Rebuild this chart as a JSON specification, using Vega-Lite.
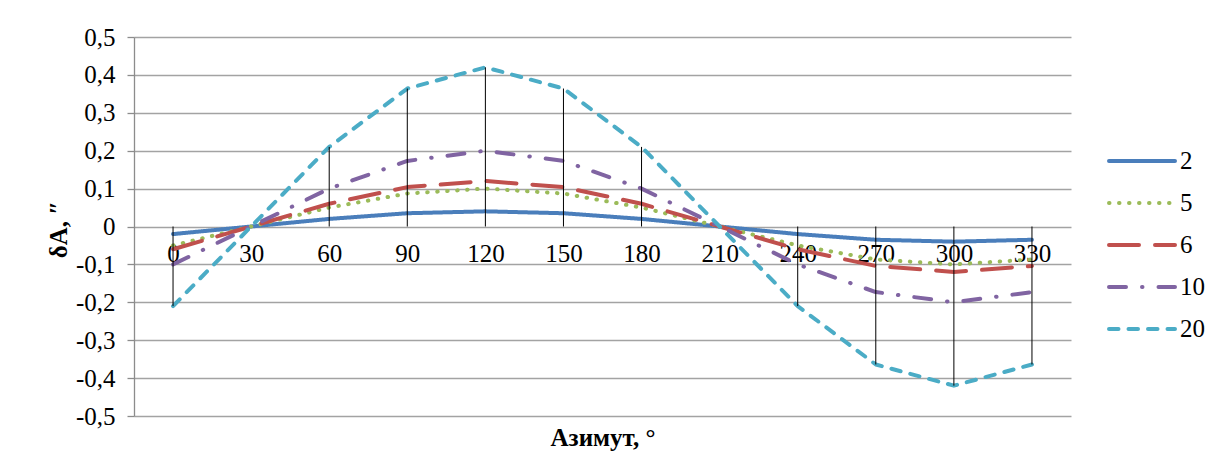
{
  "$schema": "https://vega.github.io/schema/vega-lite/v6.json",
  "width": 937,
  "height": 379,
  "autosize": {"type": "none"},
  "padding": {"left": 134, "top": 37, "right": 143, "bottom": 56},
  "background": "white",
  "config": {"view": {"stroke": null}, "font": "'Liberation Serif', 'Times New Roman', 'DejaVu Serif', serif"},
  "data": {"values": [
    {"az": 0, "s": "2", "v": -0.02}, {"az": 30, "s": "2", "v": 0.0}, {"az": 60, "s": "2", "v": 0.02}, {"az": 90, "s": "2", "v": 0.035}, {"az": 120, "s": "2", "v": 0.04}, {"az": 150, "s": "2", "v": 0.035}, {"az": 180, "s": "2", "v": 0.02}, {"az": 210, "s": "2", "v": 0.0}, {"az": 240, "s": "2", "v": -0.02}, {"az": 270, "s": "2", "v": -0.035}, {"az": 300, "s": "2", "v": -0.04}, {"az": 330, "s": "2", "v": -0.035},
    {"az": 0, "s": "5", "v": -0.05}, {"az": 30, "s": "5", "v": 0.0}, {"az": 60, "s": "5", "v": 0.05}, {"az": 90, "s": "5", "v": 0.087}, {"az": 120, "s": "5", "v": 0.1}, {"az": 150, "s": "5", "v": 0.087}, {"az": 180, "s": "5", "v": 0.05}, {"az": 210, "s": "5", "v": 0.0}, {"az": 240, "s": "5", "v": -0.05}, {"az": 270, "s": "5", "v": -0.087}, {"az": 300, "s": "5", "v": -0.1}, {"az": 330, "s": "5", "v": -0.087},
    {"az": 0, "s": "6", "v": -0.06}, {"az": 30, "s": "6", "v": 0.0}, {"az": 60, "s": "6", "v": 0.06}, {"az": 90, "s": "6", "v": 0.104}, {"az": 120, "s": "6", "v": 0.12}, {"az": 150, "s": "6", "v": 0.104}, {"az": 180, "s": "6", "v": 0.06}, {"az": 210, "s": "6", "v": 0.0}, {"az": 240, "s": "6", "v": -0.06}, {"az": 270, "s": "6", "v": -0.104}, {"az": 300, "s": "6", "v": -0.12}, {"az": 330, "s": "6", "v": -0.104},
    {"az": 0, "s": "10", "v": -0.1}, {"az": 30, "s": "10", "v": 0.0}, {"az": 60, "s": "10", "v": 0.1}, {"az": 90, "s": "10", "v": 0.173}, {"az": 120, "s": "10", "v": 0.2}, {"az": 150, "s": "10", "v": 0.173}, {"az": 180, "s": "10", "v": 0.1}, {"az": 210, "s": "10", "v": 0.0}, {"az": 240, "s": "10", "v": -0.1}, {"az": 270, "s": "10", "v": -0.173}, {"az": 300, "s": "10", "v": -0.2}, {"az": 330, "s": "10", "v": -0.173},
    {"az": 0, "s": "20", "v": -0.21}, {"az": 30, "s": "20", "v": 0.0}, {"az": 60, "s": "20", "v": 0.21}, {"az": 90, "s": "20", "v": 0.364}, {"az": 120, "s": "20", "v": 0.42}, {"az": 150, "s": "20", "v": 0.364}, {"az": 180, "s": "20", "v": 0.21}, {"az": 210, "s": "20", "v": 0.0}, {"az": 240, "s": "20", "v": -0.21}, {"az": 270, "s": "20", "v": -0.364}, {"az": 300, "s": "20", "v": -0.42}, {"az": 330, "s": "20", "v": -0.364}
  ]},
  "layer": [
    {
      "mark": {"type": "line", "strokeWidth": 4, "strokeCap": "round", "strokeJoin": "round"},
      "encoding": {
        "x": {
          "field": "az", "type": "quantitative",
          "scale": {"domain": [-15, 345], "nice": false, "zero": false},
          "axis": {
            "values": [0, 30, 60, 90, 120, 150, 180, 210, 240, 270, 300, 330],
            "tickCount": 20,
            "offset": -189.5,
            "domain": false, "ticks": false, "grid": false,
            "labelFont": "'Liberation Serif', 'Times New Roman', 'DejaVu Serif', serif", "labelFontSize": 25, "labelColor": "black",
            "labelPadding": 15, "labelFlush": false, "labelOverlap": false,
            "title": "Азимут,  °",
            "titleFont": "'Liberation Serif', 'Times New Roman', 'DejaVu Serif', serif", "titleFontSize": 25, "titleFontWeight": "bold", "titleColor": "black",
            "titleY": 219, "titleBaseline": "alphabetic", "titleAnchor": "middle"
          }
        },
        "y": {
          "field": "v", "type": "quantitative",
          "scale": {"domain": [-0.5, 0.5], "nice": false, "zero": false},
          "axis": {
            "values": [-0.5, -0.4, -0.3, -0.2, -0.1, 0, 0.1, 0.2, 0.3, 0.4, 0.5],
            "tickCount": 20,
            "labelExpr": "datum.value == 0 ? '0' : (datum.value < 0 ? '-' : '') + replace(format(abs(datum.value), '.1f'), '.', ',')",
            "labelFont": "'Liberation Serif', 'Times New Roman', 'DejaVu Serif', serif", "labelFontSize": 25, "labelColor": "black",
            "labelPadding": 12, "labelOverlap": false, "labelFlush": false,
            "tickSize": 7, "tickColor": "#8c8c8c", "tickWidth": 1.3,
            "domainColor": "#8c8c8c", "domainWidth": 1.3,
            "grid": true, "gridColor": "#a3a3a3", "gridWidth": 1.3,
            "title": "δA, ″",
            "titleFont": "'Liberation Serif', 'Times New Roman', 'DejaVu Serif', serif", "titleFontSize": 25, "titleFontWeight": "bold", "titleColor": "black",
            "titleX": -68, "titleY": 192, "titleAngle": -90, "titleAlign": "center", "titleBaseline": "alphabetic"
          }
        },
        "color": {
          "field": "s", "type": "nominal",
          "scale": {"domain": ["2", "5", "6", "10", "20"], "range": ["#4A7EBB", "#9BBB59", "#C0504D", "#8064A2", "#4BACC6"]},
          "legend": {
            "orient": "none", "legendX": 973, "legendY": 103, "title": null,
            "symbolType": "stroke", "symbolSize": 4356, "symbolStrokeWidth": 4,
            "labelFont": "'Liberation Serif', 'Times New Roman', 'DejaVu Serif', serif", "labelFontSize": 25, "labelColor": "black",
            "labelOffset": 3, "rowPadding": 0, "clipHeight": 42,
            "encode": {"symbols": {"update": {"strokeCap": {"value": "round"}}}}
          }
        },
        "strokeDash": {
          "field": "s", "type": "nominal",
          "scale": {"domain": ["2", "5", "6", "10", "20"], "range": [[1, 0], [0.5, 9.5], [30, 16], [17, 16, 0.5, 16], [9.5, 10]]},
          "legend": null
        }
      }
    },
    {
      "transform": [{"filter": "datum.s == '20'"}],
      "mark": {"type": "rule", "color": "black", "strokeWidth": 1},
      "encoding": {
        "x": {"field": "az", "type": "quantitative"},
        "y": {"field": "v", "type": "quantitative"},
        "y2": {"datum": 0}
      }
    }
  ]
}
